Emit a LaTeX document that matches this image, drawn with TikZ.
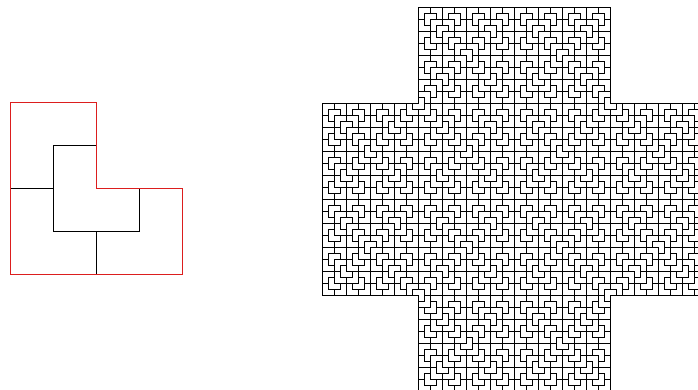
\documentclass[tikz,border=0pt]{standalone}
\definecolor{redline}{RGB}{220,30,30}
\newcommand\Ltile[6]{%
  \ifnum#1=0
    \draw[tileline] (\the\numexpr#2-#5*#4\relax,\the\numexpr#3-#6*#4\relax)
      -- (\the\numexpr#2+#5*#4\relax,\the\numexpr#3-#6*#4\relax)
      -- (\the\numexpr#2+#5*#4\relax,#3)
      -- (#2,#3)
      -- (#2,\the\numexpr#3+#6*#4\relax)
      -- (\the\numexpr#2-#5*#4\relax,\the\numexpr#3+#6*#4\relax) -- cycle;
  \else
    \begingroup
    \edef\myh{\the\numexpr#4/2\relax}%
    \edef\myn{\the\numexpr#1-1\relax}%
    \edef\mynext{%
      \noexpand\Ltile{\myn}{#2}{#3}{\myh}{#5}{#6}%
      \noexpand\Ltile{\myn}{\the\numexpr#2-#5*\myh\relax}{\the\numexpr#3-#6*\myh\relax}{\myh}{#5}{#6}%
      \noexpand\Ltile{\myn}{\the\numexpr#2+#5*\myh\relax}{\the\numexpr#3-#6*\myh\relax}{\myh}{\the\numexpr-#5\relax}{#6}%
      \noexpand\Ltile{\myn}{\the\numexpr#2-#5*\myh\relax}{\the\numexpr#3+#6*\myh\relax}{\myh}{#5}{\the\numexpr-#6\relax}%
    }\mynext
    \endgroup
  \fi}
\begin{document}
\begin{tikzpicture}[x=1pt,y=-1pt,
  tileline/.style={draw=black,line width=0.9pt},
  inner/.style={draw=black,line width=0.9pt},
  outline/.style={draw=redline,line width=0.9pt,line join=miter}]
\useasboundingbox (0,0) rectangle (698,390);
\clip (0,0) rectangle (698,390);
% left figure: L-tromino divided into four
\draw[inner] (10,188) -- (53,188);
\draw[inner] (96,145) -- (53,145) -- (53,231) -- (139,231) -- (139,188);
\draw[inner] (96,231) -- (96,274);
\draw[outline] (10,102) -- (96,102) -- (96,188) -- (182,188) -- (182,274) -- (10,274) -- cycle;
% right figure: cross of four L-trominoes, subdivided four times
\Ltile{4}{418}{103}{96}{-1}{-1}
\Ltile{4}{610}{103}{96}{1}{-1}
\Ltile{4}{418}{295}{96}{-1}{1}
\Ltile{4}{610}{295}{96}{1}{1}
\end{tikzpicture}
\end{document}
